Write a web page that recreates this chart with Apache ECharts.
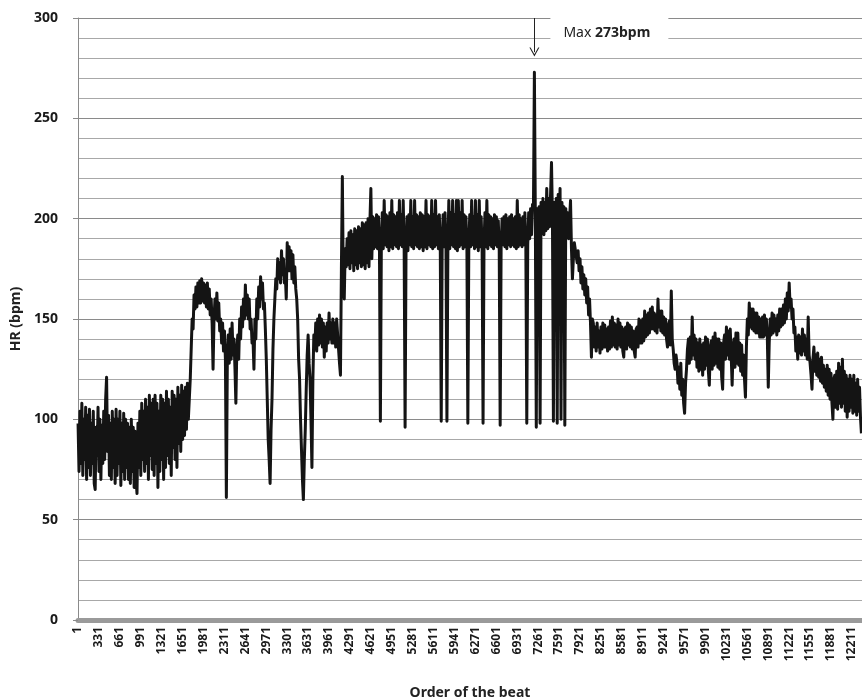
<!DOCTYPE html>
<html>
<head>
<meta charset="utf-8">
<script src="https://cdn.jsdelivr.net/npm/echarts@6/dist/echarts.min.js"></script>
<style>
  html, body { margin: 0; padding: 0; background: #fff; }
  #hr { width: 862px; height: 700px; }
</style>
</head>
<body>
<div id="hr"></div>
<script>
// 心率按拍序分段记录：每段 [起始拍, 拍间隔]，值按拍序排列

// 第1段：开始时的低心率，波动大（第1拍起，每15拍）
var segAStart = 1, segAStep = 15;
var hrSegA = [98, 74, 104, 78, 108, 72, 100, 80, 106, 70,
    102, 76, 105, 72, 98, 78, 104, 68, 65, 96,
    82, 106, 74, 100, 70, 97, 78, 104, 80, 110,
    121, 84, 102, 72, 98, 70, 104, 76, 100, 68,
    105, 72, 100, 78, 104, 67, 98, 74, 103, 70,
    100, 76, 98, 70, 96, 68, 100, 74, 96, 66,
    94, 70, 63, 98, 76, 104, 72, 108, 80, 104,
    74, 110, 78, 106, 70, 112, 82, 108, 75, 110,
    72, 112, 78, 108, 66, 104, 74, 112, 80, 110,
    70, 108, 76, 114, 82, 110, 78, 106, 72, 114,
    86, 112, 80, 110, 76, 116, 88, 112, 84, 117,
    90, 114, 92, 116, 95, 118, 100];

// 第2段：几个峰和深谷（第1771拍起，每15拍）
var segBStart = 1771, segBStep = 15;
var hrSegB = [120, 135, 150, 145, 162, 155, 166, 156, 168, 158,
    169, 158, 170, 159, 168, 158, 167, 156, 168, 155,
    165, 152, 160, 148, 125, 150, 160, 150, 163, 149,
    158, 144, 150, 138, 148, 134, 144, 130, 61, 128,
    142, 128, 145, 130, 148, 132, 140, 126, 108, 135,
    142, 130, 150, 140, 156, 146, 160, 150, 167, 152,
    162, 150, 160, 145, 150, 138, 140, 125, 150, 140,
    160, 150, 166, 156, 171, 160, 168, 155, 158, 145,
    130, 110, 90, 80, 68, 95, 110, 135, 150, 160,
    170, 165, 180, 170, 178, 168, 184, 172, 180, 168,
    172, 160, 188, 174, 186, 174, 184, 170, 182, 168,
    176, 165, 160, 150, 130, 120, 100, 85, 70, 60,
    80, 95, 115, 132, 142, 128, 120, 100, 76, 120,
    142, 135, 148, 134, 150, 137, 152, 138, 150, 136,
    148, 131, 146, 134, 148, 138, 153, 140, 148, 138,
    150, 138, 148, 136, 150];

// 第3段：平台期 (~185-205)，含最大值 273（第4111拍起，每15拍）
var segCStart = 4111, segCStep = 15;
var hrSegC = [135, 128, 122, 175, 221, 168, 160, 185, 176, 190,
    177, 193, 175, 194, 178, 192, 174, 195, 177, 194,
    175, 196, 178, 195, 176, 198, 177, 197, 175, 198,
    178, 200, 176, 199, 215, 180, 201, 185, 200, 186,
    202, 185, 201, 187, 99, 186, 203, 185, 209, 187,
    202, 186, 201, 184, 203, 186, 209, 185, 202, 187,
    201, 186, 203, 185, 209, 187, 202, 186, 209, 185,
    96, 186, 201, 184, 202, 187, 209, 186, 201, 185,
    209, 187, 202, 186, 201, 185, 203, 186, 202, 184,
    201, 186, 209, 185, 202, 187, 201, 186, 209, 185,
    202, 186, 209, 187, 201, 185, 202, 186, 99, 187,
    202, 186, 203, 185, 99, 186, 209, 185, 203, 187,
    209, 186, 202, 185, 209, 184, 209, 186, 203, 187,
    209, 185, 202, 186, 201, 187, 98, 185, 202, 186,
    209, 187, 201, 185, 209, 186, 202, 184, 209, 186,
    201, 185, 98, 187, 203, 186, 209, 185, 202, 187,
    201, 186, 200, 185, 202, 187, 201, 186, 199, 185,
    97, 186, 200, 187, 201, 186, 202, 185, 200, 187,
    201, 186, 202, 187, 200, 186, 201, 185, 209, 186,
    202, 187, 200, 186, 201, 187, 203, 186, 98, 187,
    203, 190, 205, 192, 207, 205, 273, 200, 96, 205,
    192, 206, 98, 208, 193, 210, 192, 208, 194, 215,
    195, 210, 196, 212, 228, 200, 99, 208, 195, 210,
    98, 212, 196, 215, 100, 208, 194, 206, 97, 205,
    192, 203, 190, 200, 209, 185, 170, 180, 188];

// 第4段：恢复期（第7861拍起，每15拍）
var segDStart = 7861, segDStep = 15;
var hrSegD = [188, 178, 184, 174, 180, 168, 176, 165, 172, 162,
    170, 158, 166, 152, 160, 148, 131, 150, 148, 136,
    146, 134, 148, 136, 144, 133, 146, 135, 148, 136,
    147, 136, 145, 134, 146, 135, 149, 136, 151, 137,
    148, 136, 147, 135, 150, 137, 148, 136, 146, 134,
    131, 145, 146, 135, 148, 137, 147, 136, 146, 135,
    144, 134, 131, 145, 146, 136, 150, 138, 149, 138,
    150, 139, 154, 141, 152, 142, 153, 143, 155, 145,
    156, 145, 153, 144, 152, 143, 160, 146, 154, 144,
    154, 143, 151, 142, 150, 140, 136, 147, 149, 137,
    164, 140, 135, 128, 125, 132, 128, 118, 126, 115,
    128, 112, 120, 108, 103, 118, 125, 135, 140, 128,
    141, 130, 151, 132, 142, 130, 140, 126, 138, 124,
    140, 125, 137, 122, 138, 125, 141, 127, 140, 124,
    117, 136, 139, 125, 141, 127, 143, 128, 140, 126,
    140, 125, 138, 121, 115, 138, 142, 130, 146, 132,
    144, 130, 145, 132, 117, 136, 140, 126, 143, 128,
    143, 127, 138, 124, 137, 122, 132, 120, 111, 136,
    150, 142, 158, 146, 155, 145, 155, 144, 153, 143,
    153, 143, 151, 141, 150, 141, 151, 141, 152, 142,
    150, 141, 116, 138, 150, 142, 153, 143, 152, 144,
    150, 142, 152, 144, 155, 146, 155, 147, 157, 148,
    160, 150, 163, 154, 168, 156, 160, 150, 155, 143,
    146, 134, 141, 130, 142, 133, 141, 132, 145, 134,
    142, 132, 140, 130, 151, 132, 128, 122, 115, 130,
    136, 124, 132, 122, 133, 121, 130, 119, 131, 118,
    127, 116, 125, 114, 127, 112, 125, 110, 123, 108,
    100, 120, 122, 106, 124, 105, 128, 108, 126, 106,
    130, 108, 124, 104, 122, 101, 120, 104, 122, 106,
    120, 103, 122, 104, 118, 102, 120, 104, 116, 101,
    93];

var labelStep = 330;   // x轴标签间隔：1, 331, 661 ...
var maxHR = 273;

function toPoints(values, start, step) {
    return values.map(function (v, i) { return [start + i * step, v]; });
}

var hrData = [].concat(
    toPoints(hrSegA, segAStart, segAStep),
    toPoints(hrSegB, segBStart, segBStep),
    toPoints(hrSegC, segCStart, segCStep),
    toPoints(hrSegD, segDStart, segDStep)
);
var maxBeat = hrData.filter(function (p) { return p[1] === maxHR; })[0][0];

var chart = echarts.init(document.getElementById('hr'));

var font = '"Noto Sans", "Open Sans", sans-serif';

var option = {
    animation: false,
    grid: { left: 78, right: 0, top: 18, bottom: 80, outerBoundsMode: 'none' },
    xAxis: {
        type: 'value',
        min: 0,
        max: 12370,
        interval: labelStep,
        name: 'Order of the beat',
        nameLocation: 'middle',
        nameGap: 66,
        nameTextStyle: { fontFamily: font, fontWeight: 'bold', fontSize: 14, color: '#222' },
        axisLine: { show: true, onZero: false, lineStyle: { color: '#9a9a9a', width: 5 } },
        axisTick: { show: false },
        splitLine: { show: false },
        axisLabel: {
            rotate: 90,
            margin: 7,
            showMaxLabel: false,
            fontFamily: font,
            fontWeight: 'bold',
            fontSize: 12,
            color: '#1a1a1a',
            formatter: function (v) { return String(v + 1); }
        }
    },
    yAxis: {
        type: 'value',
        min: 0,
        max: 300,
        interval: 50,
        name: 'HR (bpm)',
        nameLocation: 'middle',
        nameGap: 52,
        nameTextStyle: { fontFamily: font, fontWeight: 'bold', fontSize: 14, color: '#222' },
        axisLine: { show: true, lineStyle: { color: '#8a8a8a', width: 1 } },
        axisTick: { show: true, length: 5, lineStyle: { color: '#8a8a8a' } },
        axisLabel: { margin: 20, fontFamily: font, fontWeight: 'bold', fontSize: 14, color: '#1a1a1a' },
        splitLine: { show: true, lineStyle: { color: '#8a8a8a', width: 1 } },
        minorTick: { show: false, splitNumber: 5 },
        minorSplitLine: { show: true, lineStyle: { color: '#a8a8a8', width: 1 } }
    },
    series: [{
        name: 'HR',
        type: 'line',
        data: hrData,
        showSymbol: false,
        sampling: 'none',
        lineStyle: { color: '#141414', width: 3, join: 'round' },
        markLine: {
            silent: true,
            symbol: ['none', 'path://M0,12 L6,0 L12,12 L10.6,12 L6,3 L1.4,12 Z'],
            symbolSize: [10, 9],
            lineStyle: { color: '#222', width: 1, type: 'solid' },
            label: { show: false },
            data: [[{ coord: [maxBeat, 300] }, { coord: [maxBeat, 283] }]]
        },
        markPoint: {
            silent: true,
            symbol: 'circle',
            symbolSize: 0,
            data: [{
                coord: [maxBeat, 292.5],
                label: {
                    show: true,
                    position: 'right',
                    distance: 16,
                    backgroundColor: '#fff',
                    padding: [10, 18, 10, 13],
                    formatter: '{a|Max }{b|' + maxHR + 'bpm}',
                    rich: {
                        a: { fontFamily: font, fontSize: 14, color: '#222' },
                        b: { fontFamily: font, fontSize: 14, fontWeight: 'bold', color: '#222' }
                    }
                }
            }]
        }
    }]
};

chart.setOption(option);
</script>
</body>
</html>
